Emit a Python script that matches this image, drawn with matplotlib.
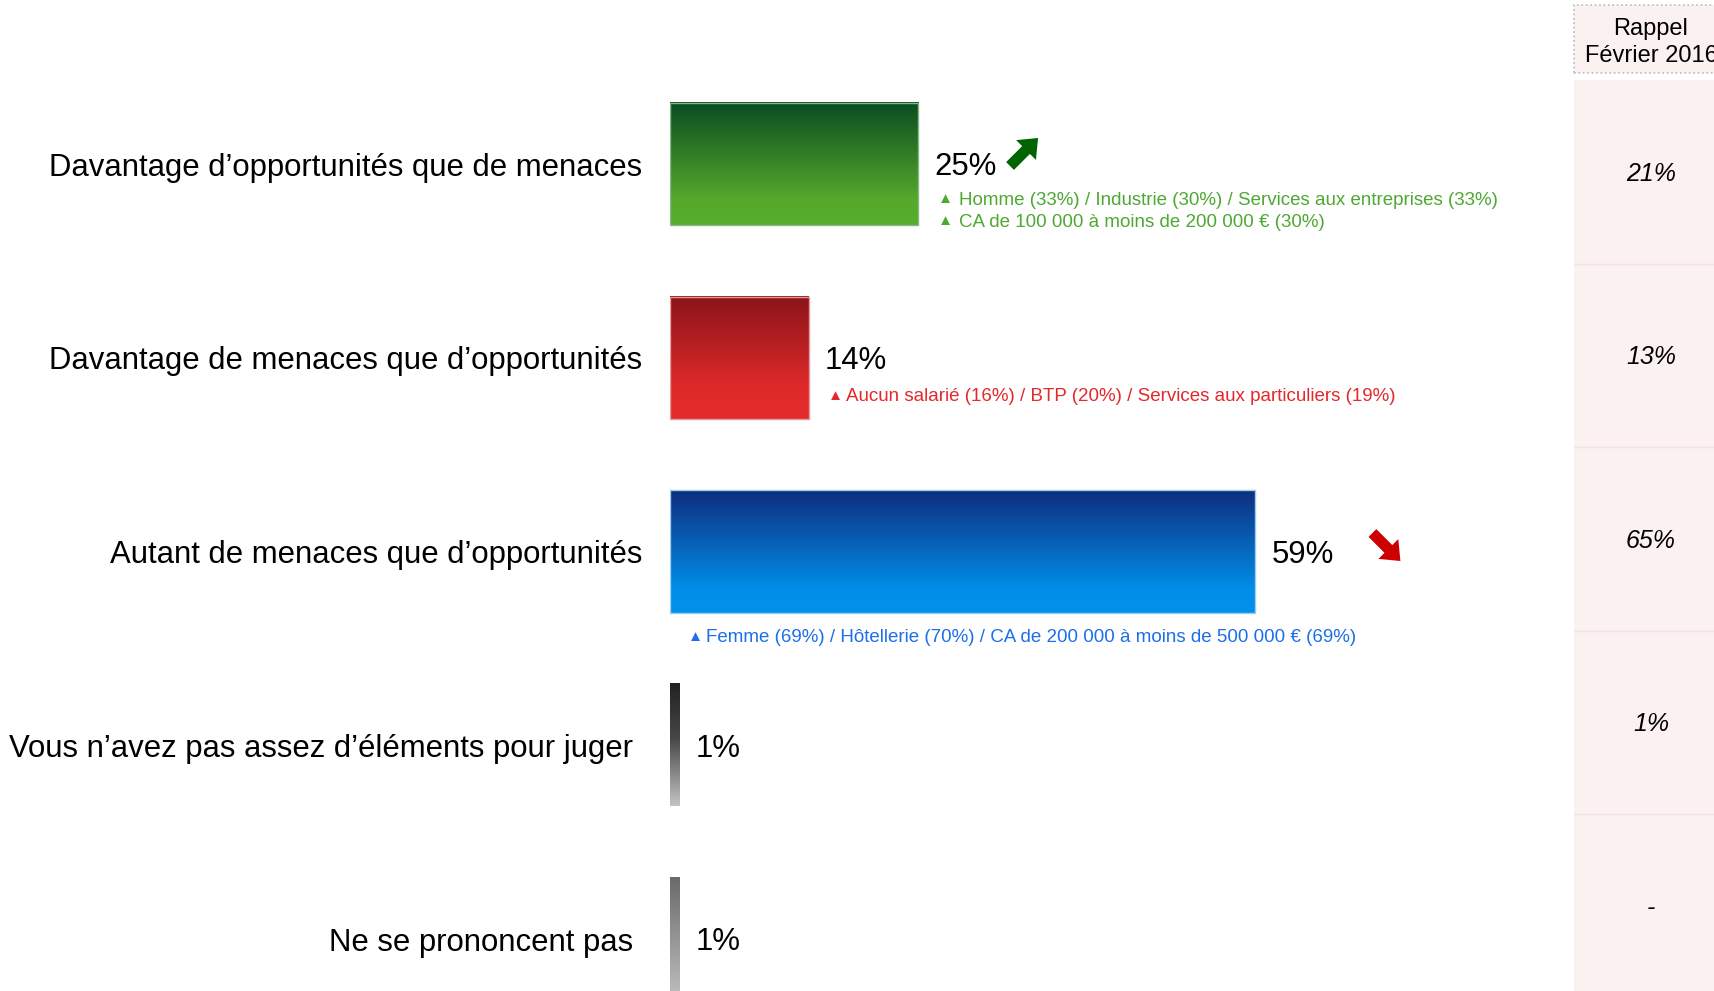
import numpy as np
import matplotlib
matplotlib.use('Agg')
import matplotlib.pyplot as plt
from matplotlib.colors import LinearSegmentedColormap
from matplotlib.patches import Rectangle, FancyArrow
from matplotlib.transforms import IdentityTransform

plt.rcParams['font.family'] = ['Liberation Sans', 'DejaVu Sans']

# ---------------- data ----------------
categories = ["Davantage d’opportunités que de menaces",
              "Davantage de menaces que d’opportunités",
              "Autant de menaces que d’opportunités",
              "Vous n’avez pas assez d’éléments pour juger ",
              "Ne se prononcent pas "]
values = [25, 14, 59, 1, 1]
rappel_header = "Rappel\nFévrier 2016"
rappel_2016 = ["21%", "13%", "65%", "1%", "-"]
trend = ["up", None, "down", None, None]
notes = [["Homme (33%) / Industrie (30%) / Services aux entreprises (33%)",
          "CA de 100 000 à moins de 200 000 € (30%)"],
         ["Aucun salarié (16%) / BTP (20%) / Services aux particuliers (19%)"],
         ["Femme (69%) / Hôtellerie (70%) / CA de 200 000 à moins de 500 000 € (69%)"],
         [], []]

# ---------------- style ----------------
grad_stops = [
    [(0, '#0A4C22'), (0.8, '#55AA2B'), (1, '#57AD2C')],
    [(0, '#8A141A'), (0.75, '#E02A2A'), (1, '#E42C2C')],
    [(0, '#0E2E7E'), (0.8, '#008DE8'), (1, '#0091EB')],
    [(0, '#222222'), (0.45, '#474747'), (1, '#C4C4C4')],
    [(0, '#6A6A6A'), (1, '#C0C0C0')],
]
edge_colors = ['#86B886', '#E89A9A', '#9ACBF0', 'none', 'none']
note_colors = ['#4EA832', '#E4282C', '#1C6FEA', 'k', 'k']
# note placement: (anchor at bar end?, triangle dx px, text dx px, first line dy px)
note_layout = [(True, 20, 41, 36), (True, 19, 37, 39), (False, 18, 36, 86.5), None, None]
arrow_colors = {'up': '#006400', 'down': '#CC0000'}
arrow_offset = {'up': (106, 12), 'down': (131, 4.5)}

W, H = 1714, 991
fig = plt.figure(figsize=(W / 100, H / 100), dpi=100)
fig.patch.set_facecolor('white')

PX = 0.72  # px -> points

# main bar axes
left_px, width_px = 670, 893
ax = fig.add_axes([left_px / W, 0, width_px / W, 1])
ax.set_facecolor('none')
ypos = np.arange(len(categories))
bars = ax.barh(ypos, values, height=0.63, color='none', zorder=3)
for b, stops, ec in zip(bars, grad_stops, edge_colors):
    cmap = LinearSegmentedColormap.from_list('g', stops)
    x, y, w, h = b.get_x(), b.get_y(), b.get_width(), b.get_height()
    grad = np.linspace(0, 1, 256).reshape(-1, 1)
    ax.imshow(grad, extent=(x, x + w, y + h, y), origin='upper',
              cmap=cmap, aspect='auto', zorder=2, interpolation='bilinear')
    b.set_edgecolor(ec)
    b.set_linewidth(1.0)

ax.set_xlim(0, 90)
spacing = 193.75
ax.set_ylim(4 + (H - 939) / spacing, -164 / spacing)
for s in ax.spines.values():
    s.set_visible(False)
ax.set_xticks([])
ax.set_yticks(ypos)
ax.set_yticklabels(categories, fontsize=22.4)
ax.tick_params(axis='y', length=0, pad=28 * PX)

# value labels
for i, v in enumerate(values):
    ax.annotate(f"{v}%", xy=(v, i), xytext=(16 * PX, -3.3 * PX), textcoords='offset points',
                va='center', ha='left', fontsize=22.4, color='black')

# notes
for i, (lines, lay, col) in enumerate(zip(notes, note_layout, note_colors)):
    if not lines:
        continue
    at_end, tdx, xdx, dy = lay
    ax_x = values[i] if at_end else 0
    for k, line in enumerate(lines):
        yoff = -(dy + k * 22) * PX
        ax.annotate("▲", xy=(ax_x, i), xytext=(tdx * PX, yoff + 0.8), textcoords='offset points',
                    va='center', ha='left', fontsize=11, color=col)
        ax.annotate(line, xy=(ax_x, i), xytext=(xdx * PX, yoff), textcoords='offset points',
                    va='center', ha='left', fontsize=13.5, color=col)

# trend arrows (drawn in pixel space next to the bar end)
fig.canvas.draw()
for i, t in enumerate(trend):
    if t is None:
        continue
    px_, py_ = ax.transData.transform((values[i], i))
    ox, oy = arrow_offset[t]
    cx, cy = px_ + ox, py_ + oy
    d = 14
    if t == 'up':
        x0, y0, dx, dy = cx - d, cy - d, 2 * d, 2 * d
    else:
        x0, y0, dx, dy = cx - d, cy + d, 2 * d, -2 * d
    arr = FancyArrow(x0, y0, dx, dy, width=11, head_width=28, head_length=17,
                     length_includes_head=True, color=arrow_colors[t],
                     transform=IdentityTransform(), linewidth=0)
    fig.add_artist(arr)

# right "Rappel" panel
pl = 1574
row_h = 183.5
pax = fig.add_axes([pl / W, 0, (W - pl) / W, 1 - 80 / H])
pax.set_facecolor('#FBF1F0')
pax.set_xlim(0, 1)
pax.set_ylim(-0.5 + (H - 80) / row_h, -0.5)
for s in pax.spines.values():
    s.set_visible(False)
pax.set_xticks([])
pax.set_yticks([])
for k in range(len(rappel_2016) - 1):
    pax.axhline(k + 0.5, color='#F2E2E2', lw=1)
for i, r in enumerate(rappel_2016):
    pax.annotate(r, xy=(0.55, i), xytext=(0, -2.2 * PX), textcoords='offset points',
                 ha='center', va='center', fontsize=18, style='italic')

hdr = Rectangle((pl / W, 1 - 73 / H), (W - pl + 5) / W, 68 / H, transform=fig.transFigure,
                facecolor='#FBF1F0', edgecolor='#BBBBBB', linestyle=':', linewidth=1.2)
fig.add_artist(hdr)
fig.text(1651 / W, 1 - 42.5 / H, rappel_header, ha='center', va='center', fontsize=17,
         linespacing=1.3)

fig.savefig('out.png', dpi=100, facecolor='white')
